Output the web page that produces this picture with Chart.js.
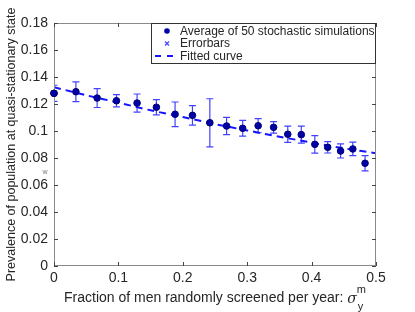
<!DOCTYPE html>
<html>
<head>
<meta charset="utf-8">
<script src="https://cdn.jsdelivr.net/npm/chart.js@4/dist/chart.umd.min.js"></script>
<style>
    html, body { margin: 0; padding: 0; background: #fff; }
    #wrap { width: 415px; height: 312px; position: relative; }
</style>
</head>
<body>
<div id="wrap"><canvas id="chart"></canvas></div>
<script>
// Data
const screenFraction = [0.000, 0.034, 0.067, 0.097, 0.129, 0.159, 0.188, 0.215, 0.242, 0.268,
                        0.293, 0.317, 0.341, 0.363, 0.384, 0.405, 0.425, 0.445, 0.464, 0.483];
const meanPrevalence = [0.1279, 0.1291, 0.1244, 0.1224, 0.1207, 0.1176, 0.1124, 0.1116, 0.1061, 0.1037,
                        0.1020, 0.1039, 0.1027, 0.0976, 0.0973, 0.0901, 0.0879, 0.0852, 0.0867, 0.0761];
const errorHalf = [0.0060, 0.0073, 0.0070, 0.0046, 0.0067, 0.0056, 0.0091, 0.0072, 0.0178, 0.0064,
                   0.0058, 0.0052, 0.0043, 0.0060, 0.0063, 0.0065, 0.0042, 0.0052, 0.0050, 0.0057];
const fitX = [0, 0.05, 0.1, 0.15, 0.2, 0.25, 0.3, 0.35, 0.4, 0.45, 0.5];
const fitY = [0.1324, 0.1265, 0.1210, 0.1153, 0.1104, 0.1051, 0.1004, 0.0958, 0.0914, 0.0872, 0.0835];
const xTicks = [0, 0.1, 0.2, 0.3, 0.4, 0.5];
const yTicks = [0, 0.02, 0.04, 0.06, 0.08, 0.1, 0.12, 0.14, 0.16, 0.18];

const legendLabels = ['Average of 50 stochastic simulations', 'Errorbars', 'Fitted curve'];
const yTitle = 'Prevalence of population at quasi-stationary state';
const xTitle = 'Fraction of men randomly screened per year: ';

const FONT = '"Liberation Sans", Arial, Helvetica, sans-serif';
const pointColor = '#0000a8';
const errColor = '#4343ff';
const fitColor = '#1414ff';
const axisColor = '#8a8a8a';
const textColor = '#262626';

const fmt = v => String(parseFloat(v.toFixed(2)));

// Error bars, frame, ticks, legend and titles
const extras = {
    id: 'extras',
    beforeDatasetsDraw(chart) {
        const ctx = chart.ctx;
        const a = chart.chartArea;
        const xs = chart.scales.x, ys = chart.scales.y;
        ctx.save();
        ctx.beginPath();
        ctx.rect(a.left, a.top, a.right - a.left, a.bottom - a.top);
        ctx.clip();
        ctx.strokeStyle = errColor;
        ctx.lineWidth = 1.2;
        screenFraction.forEach((xv, i) => {
            const px = xs.getPixelForValue(xv);
            const top = ys.getPixelForValue(meanPrevalence[i] + errorHalf[i]);
            const bot = ys.getPixelForValue(meanPrevalence[i] - errorHalf[i]);
            ctx.beginPath();
            ctx.moveTo(px, top); ctx.lineTo(px, bot);
            ctx.moveTo(px - 3.5, top); ctx.lineTo(px + 3.5, top);
            ctx.moveTo(px - 3.5, bot); ctx.lineTo(px + 3.5, bot);
            ctx.stroke();
        });
        ctx.restore();
    },
    afterDraw(chart) {
        const ctx = chart.ctx;
        const a = chart.chartArea;
        const xs = chart.scales.x, ys = chart.scales.y;
        ctx.save();

        // frame
        ctx.strokeStyle = axisColor;
        ctx.lineWidth = 1;
        ctx.strokeRect(a.left + 0.5, a.top + 0.5, a.right - a.left - 1, a.bottom - a.top - 1);

        // inward ticks on all sides
        ctx.strokeStyle = '#444';
        ctx.beginPath();
        xTicks.forEach(v => {
            const px = Math.round(xs.getPixelForValue(v)) + 0.5;
            ctx.moveTo(px, a.bottom); ctx.lineTo(px, a.bottom - 4);
            ctx.moveTo(px, a.top); ctx.lineTo(px, a.top + 4);
        });
        yTicks.forEach(v => {
            const py = Math.round(ys.getPixelForValue(v)) + 0.5;
            ctx.moveTo(a.left, py); ctx.lineTo(a.left + 4, py);
            ctx.moveTo(a.right, py); ctx.lineTo(a.right - 4, py);
        });
        ctx.stroke();

        // redraw the first point over the frame, as in the original
        const p0x = xs.getPixelForValue(screenFraction[0]);
        const p0y = ys.getPixelForValue(meanPrevalence[0]);
        ctx.fillStyle = pointColor;
        ctx.strokeStyle = '#00006e';
        ctx.beginPath(); ctx.arc(p0x, p0y, 3.3, 0, Math.PI * 2); ctx.fill(); ctx.stroke();

        // legend
        const lx = 151, ly = 23, lw = a.right - 151, lh = 41;
        ctx.fillStyle = '#fff';
        ctx.fillRect(lx, ly, lw, lh);
        ctx.strokeStyle = '#333';
        ctx.strokeRect(lx + 0.5, ly + 0.5, lw - 1, lh - 1);
        const rows = [31, 43.5, 56];
        ctx.font = '12px ' + FONT;
        ctx.fillStyle = textColor;
        ctx.textBaseline = 'middle';
        ctx.textAlign = 'left';
        legendLabels.forEach((t, i) => ctx.fillText(t, 180, rows[i] + 0.5));
        // dot
        ctx.fillStyle = pointColor;
        ctx.beginPath(); ctx.arc(167, rows[0], 2.8, 0, Math.PI * 2); ctx.fill();
        // cross
        ctx.strokeStyle = errColor;
        ctx.lineWidth = 1.2;
        ctx.beginPath();
        ctx.moveTo(165, rows[1] - 2); ctx.lineTo(169, rows[1] + 2);
        ctx.moveTo(169, rows[1] - 2); ctx.lineTo(165, rows[1] + 2);
        ctx.stroke();
        // dashes
        ctx.strokeStyle = fitColor;
        ctx.lineWidth = 2;
        ctx.beginPath();
        ctx.moveTo(155, rows[2]); ctx.lineTo(161, rows[2]);
        ctx.moveTo(167, rows[2]); ctx.lineTo(173, rows[2]);
        ctx.stroke();

        // y title
        ctx.fillStyle = textColor;
        ctx.font = '12.5px ' + FONT;
        ctx.textAlign = 'center';
        ctx.translate(12, (a.top + a.bottom) / 2);
        ctx.rotate(-Math.PI / 2);
        ctx.fillText(yTitle, 0, 0);
        ctx.setTransform(1, 0, 0, 1, 0, 0);

        // x title with sigma^m_y
        ctx.font = '14px ' + FONT;
        const w1 = ctx.measureText(xTitle).width;
        ctx.font = 'italic 14px "DejaVu Serif", serif';
        const w2 = ctx.measureText('\u03c3').width;
        ctx.font = '11px ' + FONT;
        const w3 = ctx.measureText('m').width;
        const total = w1 + w2 + w3;
        let sx = (a.left + a.right) / 2 - total / 2;
        ctx.textAlign = 'left';
        ctx.font = '14px ' + FONT;
        ctx.fillText(xTitle, sx, 298);
        sx += w1;
        ctx.font = 'italic 14px "DejaVu Serif", serif';
        ctx.fillText('\u03c3', sx, 299);
        sx += w2;
        ctx.font = '11px ' + FONT;
        ctx.fillText('m', sx, 290);
        ctx.fillText('y', sx + 1, 307);

        // stray small label next to the y axis
        ctx.font = '7px ' + FONT;
        ctx.fillStyle = '#777';
        ctx.textAlign = 'center';
        ctx.fillText('w', 45, 172);

        ctx.restore();
    }
};

const ctx = document.getElementById('chart').getContext('2d');
new Chart(ctx, {
    type: 'scatter',
    data: {
        datasets: [
            {
                type: 'line',
                label: 'Fitted curve',
                data: fitX.map((x, i) => ({ x: x, y: fitY[i] })),
                borderColor: fitColor,
                borderWidth: 2,
                borderDash: [7, 5],
                pointRadius: 0,
                tension: 0.3,
                fill: false,
                order: 2
            },
            {
                label: 'Average of 50 stochastic simulations',
                data: screenFraction.map((x, i) => ({ x: x, y: meanPrevalence[i] })),
                backgroundColor: pointColor,
                borderColor: '#00006e',
                borderWidth: 1,
                pointRadius: 3.3,
                clip: false,
                order: 1
            }
        ]
    },
    options: {
        responsive: true,
        maintainAspectRatio: false,
        animation: false,
        layout: { padding: { left: 0, top: 23, right: 39, bottom: 0 } },
        plugins: {
            legend: { display: false },
            tooltip: { enabled: false }
        },
        scales: {
            x: {
                type: 'linear',
                min: 0,
                max: 0.5,
                grid: { display: false, drawTicks: false, tickLength: 0 },
                border: { display: false },
                afterBuildTicks: s => { s.ticks = xTicks.map(v => ({ value: v })); },
                afterFit: s => { s.height = 46; },
                ticks: {
                    padding: 4,
                    color: textColor,
                    font: { family: FONT, size: 14 },
                    maxRotation: 0,
                    callback: v => fmt(v)
                }
            },
            y: {
                type: 'linear',
                min: 0,
                max: 0.18,
                grid: { display: false, drawTicks: false, tickLength: 0 },
                border: { display: false },
                afterBuildTicks: s => { s.ticks = yTicks.map(v => ({ value: v })); },
                afterFit: s => { s.width = 54; },
                ticks: {
                    padding: 6,
                    color: textColor,
                    font: { family: FONT, size: 14 },
                    callback: v => fmt(v)
                }
            }
        }
    },
    plugins: [extras]
});
</script>
</body>
</html>
